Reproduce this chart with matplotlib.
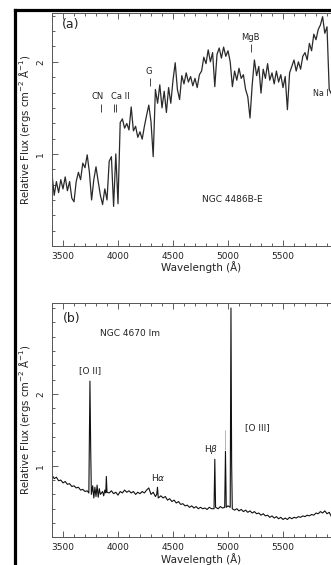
import matplotlib
matplotlib.use("Agg")
import matplotlib.pyplot as plt
from matplotlib.ticker import MultipleLocator, FixedLocator
from matplotlib.lines import Line2D

plt.rcParams['font.family'] = ['DejaVu Sans']

# ---------------- Panel (a): NGC 4486B-E ----------------
wave_a = list(range(3400, 5941, 20))
flux_a = [0.78, 0.55, 0.70, 0.58, 0.72, 0.62, 0.75, 0.60, 0.70, 0.52,
          0.48, 0.70, 0.80, 0.72, 0.90, 0.85, 0.99, 0.80, 0.50, 0.72,
          0.86, 0.70, 0.55, 0.45, 0.62, 0.50, 0.92, 0.97, 0.43, 1.00,
          0.46, 1.34, 1.38, 1.28, 1.33, 1.26, 1.51, 1.25, 1.30, 1.18,
          1.24, 1.16, 1.30, 1.42, 1.53, 1.35, 0.97, 1.70, 1.55, 1.75,
          1.50, 1.68, 1.45, 1.72, 1.55, 1.80, 1.99, 1.70, 1.59, 1.85,
          1.76, 1.88, 1.78, 1.84, 1.74, 1.82, 1.72, 1.86, 1.90, 2.05,
          1.98, 2.13, 2.00, 2.10, 1.73, 2.08, 2.15, 2.04, 2.16, 2.06,
          2.12, 2.00, 1.73, 1.90, 1.80, 1.93, 1.82, 1.86, 1.70, 1.62,
          1.39, 1.75, 2.02, 1.85, 1.95, 1.66, 1.92, 1.82, 1.98, 1.80,
          1.88, 1.76, 1.90, 1.78, 1.86, 1.72, 1.84, 1.48, 1.88, 1.95,
          2.02, 1.90, 2.00, 1.92, 2.06, 2.10, 2.02, 2.20, 2.12, 2.30,
          2.24, 2.35, 2.40, 2.49, 2.31, 2.38, 1.70, 1.65]

# absorption-feature labels (a)
feat_a_names = ["CN", "Ca II", "G", "MgB"]
feat_a_text_x = [3815, 4025, 4275, 5205]
feat_a_text_y = [1.62, 1.62, 1.90, 2.26]
mark_a_x = [3848, 3965, 3985, 4293, 5205]
mark_a_y = [1.50, 1.50, 1.50, 1.78, 2.15]
na_label = "Na I"
na_x, na_y = 5770, 1.66

# ---------------- Panel (b): NGC 4670 Im ----------------
wave_b = [3400, 3420, 3440, 3460, 3480, 3500, 3520, 3540, 3560, 3580,
          3600, 3620, 3640, 3660, 3680, 3700, 3720, 3735, 3745, 3752,
          3758, 3770, 3780, 3790, 3800, 3810, 3820, 3830, 3840, 3860,
          3870, 3880, 3889, 3894, 3900, 3920, 3940, 3960, 3980, 4000,
          4020, 4040, 4060, 4080, 4100, 4120, 4140, 4160, 4180, 4200,
          4220, 4240, 4260, 4280, 4300, 4320, 4340, 4352, 4359, 4366,
          4390, 4410, 4430, 4450, 4470, 4490, 4510, 4530, 4550, 4570,
          4590, 4610, 4630, 4650, 4670, 4690, 4710, 4730, 4750, 4770,
          4790, 4810, 4830, 4850, 4873, 4880, 4887, 4910, 4930, 4950,
          4970, 4977, 4984, 5000, 5020, 5027, 5033, 5039, 5060, 5080,
          5100, 5120, 5140, 5160, 5180, 5200, 5220, 5240, 5260, 5280,
          5300, 5320, 5340, 5360, 5380, 5400, 5420, 5440, 5460, 5480,
          5500, 5520, 5540, 5560, 5580, 5600, 5620, 5640, 5660, 5680,
          5700, 5720, 5740, 5760, 5780, 5800, 5820, 5840, 5860, 5880,
          5900, 5920, 5940, 5960]
flux_b = [0.87, 0.82, 0.84, 0.79, 0.80, 0.76, 0.78, 0.74, 0.75, 0.71,
          0.72, 0.69, 0.70, 0.66, 0.67, 0.64, 0.65, 0.62, 2.18, 1.20,
          0.60, 0.72, 0.55, 0.70, 0.57, 0.73, 0.56, 0.68, 0.60, 0.64,
          0.58, 0.66, 0.62, 0.85, 0.63, 0.62, 0.65, 0.61, 0.63, 0.59,
          0.64, 0.62, 0.66, 0.63, 0.65, 0.62, 0.64, 0.60, 0.63, 0.61,
          0.64, 0.62, 0.66, 0.69, 0.60, 0.63, 0.57, 0.60, 0.70, 0.55,
          0.58, 0.55, 0.57, 0.52, 0.54, 0.50, 0.52, 0.48, 0.50, 0.46,
          0.47, 0.44, 0.45, 0.42, 0.44, 0.41, 0.43, 0.40, 0.42, 0.40,
          0.41, 0.39, 0.42, 0.40, 0.40, 1.09, 0.42, 0.40, 0.43, 0.41,
          0.42, 1.20, 0.42, 0.44, 0.42, 3.20, 1.04, 0.40, 0.38, 0.40,
          0.37, 0.39, 0.36, 0.38, 0.35, 0.37, 0.34, 0.36, 0.33, 0.34,
          0.31, 0.33, 0.30, 0.31, 0.28, 0.30, 0.27, 0.29, 0.26, 0.28,
          0.25, 0.27, 0.25, 0.28, 0.26, 0.28, 0.27, 0.29, 0.28, 0.30,
          0.29, 0.31, 0.30, 0.32, 0.31, 0.34, 0.33, 0.36, 0.34, 0.37,
          0.33, 0.35, 0.29, 0.30]

# emission-line labels (b)
feat_b_names = ["[O II]", r"H$\alpha$", r"H$\beta$", "[O III]"]
feat_b_text_x = [3750, 4362, 4846, 5268]
feat_b_text_y = [2.32, 0.83, 1.22, 1.53]

xticks = [3500, 4000, 4500, 5000, 5500]
yticks = [1, 2]

TXT = '#222222'
fig = plt.figure(figsize=(3.31, 5.65), dpi=100)

def style(ax, ylim, yminor):
    ax.set_xlim(3400, 6000)
    ax.set_ylim(*ylim)
    ax.xaxis.set_major_locator(FixedLocator(xticks))
    ax.xaxis.set_minor_locator(MultipleLocator(100))
    ax.yaxis.set_major_locator(FixedLocator(yticks))
    ax.yaxis.set_minor_locator(MultipleLocator(yminor))
    ax.tick_params(which='both', direction='in', top=True, right=False,
                   colors='#444444', labelcolor=TXT, labelsize=6.5, width=0.6)
    ax.tick_params(which='major', length=4.5, pad=4)
    ax.tick_params(which='minor', length=2.5)
    ax.tick_params(axis='y', pad=5)
    for lab in ax.get_yticklabels():
        lab.set_rotation(90)
        lab.set_va('center')
    for s in ax.spines.values():
        s.set_color('#555555')
        s.set_linewidth(0.7)
    ax.set_xlabel("Wavelength (Å)", fontsize=7.5, color=TXT)
    ax.xaxis.set_label_coords(0.52, -0.065)
    ax.set_ylabel(r"Relative Flux (ergs cm$^{-2}$ Å$^{-1}$)", fontsize=7.3, color=TXT)
    ax.yaxis.set_label_coords(-0.066, 0.5)

# panel (a)
axa = fig.add_axes([52/331, 1-246/565, 286/331, 233/565])
axa.plot(wave_a, flux_a, color='#2a2a2a', lw=0.9)
style(axa, (0, 2.53), 1/6)
axa.text(3490, 2.40, "(a)", fontsize=9, color=TXT, va='center', ha='left')
axa.text(5043, 0.51, "NGC 4486B-E", fontsize=6.5, color=TXT, va='center', ha='center')
for n, x, y in zip(feat_a_names, feat_a_text_x, feat_a_text_y):
    axa.text(x, y, n, fontsize=6, color=TXT, ha='center', va='center')
axa.text(na_x, na_y, na_label, fontsize=5.8, color=TXT, ha='left', va='center')
axa.vlines(mark_a_x, [v - 0.04 for v in mark_a_y], [v + 0.04 for v in mark_a_y],
           color='#444444', lw=0.7)

# panel (b)
axb = fig.add_axes([52/331, 1-537.4/565, 286/331, 234.4/565])
axb.plot(wave_b, flux_b, color='#111111', lw=0.8)
style(axb, (0, 3.27), 0.2)
axb.text(3495, 3.05, "(b)", fontsize=9, color=TXT, va='center', ha='left')
axb.text(3835, 2.84, "NGC 4670 Im", fontsize=6.5, color=TXT, va='center', ha='left')
for n, x, y in zip(feat_b_names, feat_b_text_x, feat_b_text_y):
    axb.text(x, y, n, fontsize=6.5, color=TXT, ha='center', va='center')
axb.vlines([4977], [1.22], [1.50], color='#999999', lw=0.5)

# thick black frame (left and top edges)
fig.add_artist(Line2D([15/331, 15/331], [-0.01, 1-10/565], color='black', lw=2.3,
                      transform=fig.transFigure, solid_capstyle='projecting'))
fig.add_artist(Line2D([15/331, 1.01], [1-10/565, 1-10/565], color='black', lw=2.3,
                      transform=fig.transFigure, solid_capstyle='projecting'))

fig.savefig("out.png", dpi=100)
